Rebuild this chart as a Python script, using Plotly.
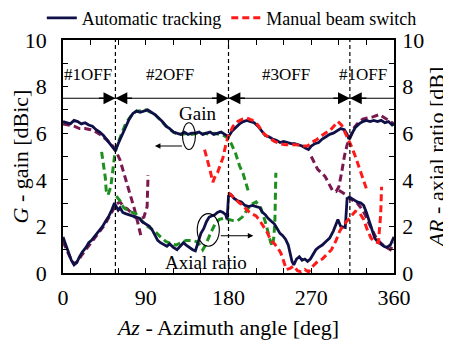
import plotly.graph_objects as go

# ---------------- data ----------------
auto_gain_az = [0,4,8,12,16,20,24,28,32,36,40,44,48,52,55,57,60,64,68,72,76,80,84,88,92,96,100,104,108,112,116,120,124,128,132,136,140,144,148,152,156,160,164,168,172,176,180,184,188,192,196,200,204,208,212,216,220,224,228,232,236,240,244,248,252,256,260,264,267,270,274,278,282,286,290,294,298,302,306,309,311,314,318,322,326,330,334,338,342,346,350,354,358,360]
auto_gain = [6.5,6.45,6.4,6.55,6.5,6.4,6.45,6.35,6.3,6.15,6.05,5.9,5.7,5.5,5.35,5.25,5.55,5.9,6.3,6.6,6.85,6.95,6.9,6.95,7.0,6.9,6.8,6.65,6.5,6.3,6.2,6.05,6.0,5.95,6.05,5.95,6.0,6.0,6.05,5.95,6.0,6.05,5.95,6.0,6.05,5.95,5.85,6.1,6.25,6.4,6.5,6.55,6.5,6.45,6.3,6.1,5.9,5.85,5.75,5.7,5.6,5.65,5.6,5.55,5.55,5.5,5.45,5.35,5.3,5.45,5.55,5.6,5.75,5.85,5.95,6.0,6.1,6.2,6.15,5.95,5.75,5.95,6.25,6.4,6.5,6.55,6.5,6.55,6.5,6.55,6.45,6.5,6.35,6.4]

auto_ar_az = [0,3,6,9,12,15,18,21,25,28,31,34,37,40,43,46,50,53,56,58,60,62,65,68,72,76,80,83,86,90,94,97,100,103,106,110,113,116,120,124,128,131,134,137,141,144,147,150,153,156,159,162,165,168,171,174,177,178.5,180,183,186,190,194,198,202,206,210,214,217,220,223,226,230,233,236,239,242,245,247,249,251,254,257,260,263,266,269,272,275,278,282,286,290,294,297,299,302,305,307,309,312,316,320,324,327,330,333,336,339,342,345,349,352,356,360]
auto_ar = [1.55,1.2,0.85,0.55,0.35,0.45,0.7,0.9,1.1,1.3,1.4,1.55,1.7,1.8,2.0,2.2,2.45,2.7,3.0,2.85,2.7,2.8,2.6,2.55,2.5,2.45,2.4,2.35,2.2,2.1,2.0,1.85,1.6,1.4,1.3,1.2,1.15,1.25,1.1,1.0,1.15,1.3,1.2,1.1,1.0,0.95,1.3,1.7,1.9,2.2,2.4,2.45,2.5,2.6,2.65,2.6,2.5,2.3,3.3,3.35,3.2,3.1,3.05,2.9,2.85,2.9,2.85,2.8,2.6,2.5,2.35,2.25,2.1,1.9,1.7,1.6,1.45,1.2,0.9,0.5,0.35,0.6,0.7,0.55,0.6,0.5,0.6,0.8,1.0,1.1,1.2,1.35,1.5,1.8,2.1,2.3,2.0,1.95,1.95,3.2,3.25,3.15,3.05,3.0,2.9,2.6,2.2,1.8,1.5,1.35,1.25,1.15,1.1,1.2,1.55]

manual_gain_az = [154,157,160,163,165,168,171,174,177,180,185,190,195,200,206,212,218,224,230,236,242,248,254,260,266,270,275,280,285,290,295,299,303,306,309,313,318,323,327,331]
manual_gain = [5.3,4.9,4.4,3.9,4.1,4.3,4.6,4.95,5.5,5.9,6.3,6.5,6.6,6.65,6.55,6.35,6.0,5.8,5.65,5.55,5.5,5.5,5.5,5.45,5.45,5.6,5.7,5.85,6.0,6.1,6.3,6.5,6.35,6.1,5.85,5.5,5.0,4.4,3.9,3.5]

manual_ar_az = [180,184,188,192,196,200,205,210,214,218,222,226,230,234,237,240,243,247,251,255,259,263,267,272,277,282,287,292,297,301,305,309,313,318,323,327,331,335,339,343,345.5,346.5]
manual_ar = [3.45,3.3,3.15,3.0,2.9,2.7,2.55,2.45,2.25,2.0,1.75,1.4,1.25,1.05,0.85,0.5,0.15,0.2,0.3,0.1,0.05,0.15,0.05,0.3,0.5,0.6,0.8,1.0,1.4,1.8,2.05,2.25,2.4,2.65,2.55,2.3,1.85,1.5,1.35,1.3,2.5,3.7]

beam1_gain_az = [0,6,12,18,24,30,36,42,48,54,58,62,66,70,74,78,82,85]
beam1_gain = [6.4,6.35,6.3,6.2,6.2,6.15,6.05,5.9,5.7,5.45,5.2,4.85,4.3,3.8,3.3,2.7,2.05,1.55]
beam1_ar_az = [0,4,8,12,16,20,25,30,35,40,45,50,54,58,62,66,70,74,78,83,88,91.5,92.5]
beam1_ar = [1.35,1.0,0.65,0.4,0.5,0.75,1.0,1.25,1.5,1.75,2.05,2.4,2.7,2.95,3.05,2.85,2.75,2.6,2.4,2.3,2.4,2.85,4.2]

beam1b_gain_az = [270,273,277,281,285,289,293,297,300,303,306,309,313,317,321,326,331,337,344,350,355,360]
beam1b_gain = [5.0,4.75,4.45,4.3,4.15,3.85,3.55,3.5,3.7,4.3,5.0,5.5,5.9,6.25,6.45,6.6,6.65,6.7,6.8,6.65,6.55,6.4]
beam1b_ar_az = [300,304,308,312,316,320,324,328,332,336,340,344,348,352,356,360]
beam1b_ar = [3.55,3.45,3.35,3.2,3.1,3.0,2.8,2.55,2.2,1.85,1.55,1.35,1.2,1.1,1.0,1.3]

beam2_gain_az = [42,44,46,47,49,52,54,56,58,62,68,75,80,85,90,95,100,105,110,115,120,125,130,135,140,145,150,155,160,165,170,175,179,183,188,192,196,199,202]
beam2_gain = [5.2,4.7,4.1,3.55,3.35,3.7,4.4,5.0,5.4,5.8,6.4,6.8,6.95,6.95,7.0,6.9,6.8,6.6,6.4,6.2,6.05,5.95,5.95,6.0,5.95,6.0,5.95,6.0,5.95,6.0,5.95,5.9,5.8,5.55,5.1,4.6,4.25,3.8,3.45]
beam2_ar_az = [58,62,66,72,79,85,90,96,101,106,112,118,123,128,134,140,145,149,152,155,158,161,166,170,175,180,185,190,195,200,205,210,215,220,223,226,228,229.5,230.5,231.5]
beam2_ar = [3.3,3.1,2.8,2.65,2.55,2.3,2.05,1.9,1.75,1.55,1.35,1.25,1.2,1.3,1.4,1.4,1.35,1.2,1.0,1.2,1.5,1.75,2.15,2.3,2.35,2.3,2.25,2.25,2.4,2.7,2.95,3.05,2.8,2.2,1.8,1.3,1.15,1.6,2.3,4.3]

x_tick_vals = [0, 90, 180, 270, 360]
y_tick_vals = [0, 2, 4, 6, 8, 10]
switch_az = [57, 180, 312]
state_labels = ["#1OFF", "#2OFF", "#3OFF", "#1OFF"]
state_label_az = [27, 116, 242, 326]

# ---------------- style ----------------
NAVY = "#101048"
RED = "#ff1a1a"
GREEN = "#1f8f1f"
MAROON = "#7a1850"
FONT = "Liberation Serif"

fig = go.Figure()

def dash_trace(x, y, color, name=None, show=False, yaxis="y"):
    fig.add_trace(go.Scatter(x=x, y=y, mode="lines", name=name, showlegend=show,
                             line=dict(color=color, width=3, dash="7px,4px"), yaxis=yaxis))

# helper beams (not in legend)
dash_trace(beam1_gain_az, beam1_gain, MAROON)
dash_trace(beam1_ar_az, beam1_ar, MAROON, yaxis="y2")
dash_trace(beam1b_gain_az, beam1b_gain, MAROON)
dash_trace(beam1b_ar_az, beam1b_ar, MAROON, yaxis="y2")
dash_trace(beam2_gain_az, beam2_gain, GREEN)
dash_trace(beam2_ar_az, beam2_ar, GREEN, yaxis="y2")

fig.add_trace(go.Scatter(x=auto_gain_az, y=auto_gain, mode="lines", name="Automatic tracking",
                         line=dict(color=NAVY, width=2.8), legendrank=1))
fig.add_trace(go.Scatter(x=auto_ar_az, y=auto_ar, mode="lines", showlegend=False,
                         line=dict(color=NAVY, width=2.8), yaxis="y2"))
fig.add_trace(go.Scatter(x=manual_gain_az, y=manual_gain, mode="lines", name="Manual beam switch",
                         line=dict(color=RED, width=3, dash="7px,4px"), legendrank=2))
fig.add_trace(go.Scatter(x=manual_ar_az, y=manual_ar, mode="lines", showlegend=False,
                         line=dict(color=RED, width=3, dash="7px,4px"), yaxis="y2"))

shapes = []
for b in switch_az:
    shapes.append(dict(type="line", xref="x", yref="y", x0=b, x1=b, y0=0, y1=10,
                       line=dict(color="black", width=1.2, dash="4px,3px"), layer="above"))
shapes.append(dict(type="line", xref="x", yref="y", x0=0, x1=360, y0=7.5, y1=7.5,
                   line=dict(color="black", width=1.2)))
# bracket loops
shapes.append(dict(type="circle", xref="x", yref="y", x0=130, x1=144, y0=5.3, y1=6.45,
                   line=dict(color="black", width=1.1)))
shapes.append(dict(type="circle", xref="x", yref="y", x0=146, x1=170, y0=1.15, y1=2.55,
                   line=dict(color="black", width=1.1)))

annotations = []
for t, a in zip(state_labels, state_label_az):
    annotations.append(dict(x=a, y=8.5, xref="x", yref="y", text=t, showarrow=False,
                            font=dict(family=FONT, size=17, color="black")))
for b in switch_az:
    for side in (-1, 1):
        annotations.append(dict(x=b, y=7.5, xref="x", yref="y", ax=side * 18, ay=0,
                                text="", showarrow=True, arrowhead=2, arrowsize=1.7,
                                arrowwidth=1.4, arrowcolor="black", standoff=0))
annotations.append(dict(x=146, y=6.85, xref="x", yref="y", text="Gain", showarrow=False,
                        font=dict(family=FONT, size=19, color="black")))
annotations.append(dict(x=100, y=5.45, xref="x", yref="y", ax=131, ay=5.45, axref="x", ayref="y",
                        text="", showarrow=True, arrowhead=2, arrowsize=1, arrowwidth=1.1,
                        arrowcolor="black", standoff=0))
annotations.append(dict(x=155, y=0.45, xref="x", yref="y", text="Axial ratio", showarrow=False,
                        font=dict(family=FONT, size=19, color="black")))
annotations.append(dict(x=207, y=1.6, xref="x", yref="y", ax=170, ay=1.6, axref="x", ayref="y",
                        text="", showarrow=True, arrowhead=2, arrowsize=1, arrowwidth=1.1,
                        arrowcolor="black", standoff=0))

# the page body has an 8px default margin, so the figure is sized/offset to compensate
fig.update_layout(
    width=443, height=333,
    margin=dict(l=55, r=57, t=32, b=68, autoexpand=False),
    paper_bgcolor="white", plot_bgcolor="white",
    font=dict(family=FONT, size=22, color="black"),
    showlegend=True,
    legend=dict(orientation="h", x=-0.064, xanchor="left", y=1.094, yanchor="middle",
                font=dict(family=FONT, size=18, color="black"), bgcolor="rgba(0,0,0,0)",
                itemwidth=30, tracegroupgap=0),
    shapes=shapes, annotations=annotations,
    xaxis=dict(range=[0, 360], tickvals=x_tick_vals, ticks="inside", ticklen=5,
               tickcolor="black", showline=True, linecolor="black", linewidth=1.5, mirror="ticks",
               showgrid=False, zeroline=False, ticklabelstandoff=4, automargin=False,
               tickfont=dict(family=FONT, size=22),
               minor=dict(dtick=30, ticks="inside", ticklen=5, tickcolor="black", showgrid=False),
               title=dict(text="<i>Az</i> - Azimuth angle [deg]", standoff=10,
                          font=dict(family=FONT, size=22))),
    yaxis=dict(range=[0, 10], tickvals=y_tick_vals, ticks="inside", ticklen=5, tickcolor="black",
               showline=True, linecolor="black", linewidth=1.5, showgrid=False, zeroline=False,
               ticklabelstandoff=10, automargin=False, tickfont=dict(family=FONT, size=22),
               minor=dict(dtick=1, ticks="inside", ticklen=5, tickcolor="black", showgrid=False),
               title=dict(text="<i>G</i> - gain [dBic]", standoff=1, font=dict(family=FONT, size=22))),
    yaxis2=dict(range=[0, 10], tickvals=y_tick_vals, overlaying="y", side="right", ticks="inside",
                ticklen=5, tickcolor="black", showline=True, linecolor="black", linewidth=1.5,
                showgrid=False, zeroline=False, ticklabelstandoff=2, automargin=False,
                tickfont=dict(family=FONT, size=22),
                minor=dict(dtick=1, ticks="inside", ticklen=5, tickcolor="black", showgrid=False),
                title=dict(text="<i>AR</i> - axial ratio [dB]", standoff=5,
                           font=dict(family=FONT, size=22))),
)

fig.write_html("out.html")
